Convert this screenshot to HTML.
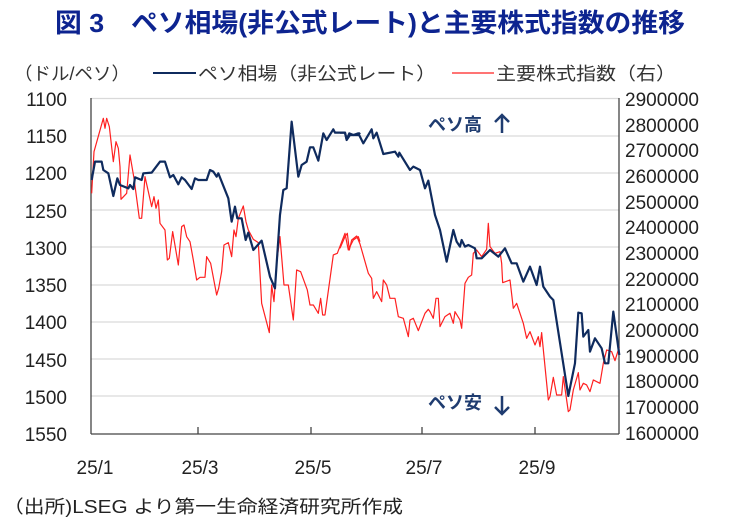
<!DOCTYPE html>
<html><head><meta charset="utf-8"><style>
body{margin:0;background:#fff;width:740px;height:520px;overflow:hidden}
svg text{font-family:"Liberation Sans","Noto Sans CJK JP",sans-serif}
</style></head><body>
<svg width="740" height="520" viewBox="0 0 740 520" xmlns="http://www.w3.org/2000/svg">
<text x="55" y="32" font-size="26" font-weight="bold" fill="#0d2490" textLength="630" lengthAdjust="spacingAndGlyphs">図 3　ペソ相場(非公式レート)と主要株式指数の推移</text>
<g font-size="18" fill="#333">
<text x="14" y="80" textLength="116" lengthAdjust="spacingAndGlyphs">（ドル/ペソ）</text>
<line x1="153" y1="73" x2="196" y2="73" stroke="#0f2b5e" stroke-width="2"/>
<text x="198" y="80" textLength="238" lengthAdjust="spacingAndGlyphs">ペソ相場（非公式レート）</text>
<line x1="452" y1="73" x2="494" y2="73" stroke="#ff2020" stroke-width="1.3"/>
<text x="496" y="80" textLength="180" lengthAdjust="spacingAndGlyphs">主要株式指数（右）</text>
</g>
<g stroke="#d9d9d9" stroke-width="1.2">
<line x1="91" y1="98.5" x2="619" y2="98.5"/><line x1="91" y1="136" x2="619" y2="136"/><line x1="91" y1="173" x2="619" y2="173"/><line x1="91" y1="210" x2="619" y2="210"/><line x1="91" y1="247" x2="619" y2="247"/><line x1="91" y1="285" x2="619" y2="285"/><line x1="91" y1="322" x2="619" y2="322"/><line x1="91" y1="359" x2="619" y2="359"/><line x1="91" y1="396" x2="619" y2="396"/>
</g>
<g stroke="#444" stroke-width="1.3" fill="none">
<line x1="91" y1="98" x2="91" y2="434"/><line x1="619" y1="98" x2="619" y2="434"/><line x1="91" y1="434" x2="619" y2="434"/>
<line x1="198" y1="427" x2="198" y2="434"/><line x1="311" y1="427" x2="311" y2="434"/><line x1="422" y1="427" x2="422" y2="434"/><line x1="535" y1="427" x2="535" y2="434"/>
</g>
<g font-size="19" fill="#222" text-anchor="end">
<text x="67" y="106">1100</text><text x="67" y="143">1150</text><text x="67" y="180">1200</text><text x="67" y="218">1250</text><text x="67" y="255">1300</text><text x="67" y="292">1350</text><text x="67" y="329">1400</text><text x="67" y="367">1450</text><text x="67" y="404">1500</text><text x="67" y="441">1550</text>
</g>
<g font-size="19" fill="#222">
<text x="625" y="106">2900000</text><text x="625" y="132">2800000</text><text x="625" y="157">2700000</text><text x="625" y="183">2600000</text><text x="625" y="209">2500000</text><text x="625" y="234">2400000</text><text x="625" y="260">2300000</text><text x="625" y="286">2200000</text><text x="625" y="311">2100000</text><text x="625" y="337">2000000</text><text x="625" y="363">1900000</text><text x="625" y="388">1800000</text><text x="625" y="414">1700000</text><text x="625" y="440">1600000</text>
</g>
<g font-size="19" fill="#222" text-anchor="middle">
<text x="95" y="474">25/1</text><text x="200" y="474">25/3</text><text x="313" y="474">25/5</text><text x="424" y="474">25/7</text><text x="537" y="474">25/9</text>
</g>
<g font-size="18" font-weight="bold" fill="#1f3c70">
<text x="428" y="131">ペソ高</text><text x="428" y="409">ペソ安</text>
</g>
<g stroke="#1f3c70" stroke-width="2.5" fill="none">
<path d="M502 133 V116 M495 122 L502 115 L509 122"/>
<path d="M502 396 V413 M495 407 L502 414 L509 407"/>
</g>
<g fill="none" stroke-linejoin="round">
<g transform="translate(80,90) scale(0.3333)">
<polyline stroke="#ff2020" stroke-width="1.2" vector-effect="non-scaling-stroke" points="35,310 42,185 70,85 75,115 80,85 88,110 100,215 108,155 115,175 120,230 123,328 140,310 150,195 162,265 178,385 185,385 195,260 215,350 222,320 228,355 235,330 240,400 255,420 262,510 268,505 278,425 295,525 305,410 312,405 320,440 330,455 340,510 350,570 360,562 375,562 380,500 392,520 410,615 416,595 425,545 432,465 445,458 455,500 462,420 468,440 475,385 490,348 498,395 505,420 520,448 535,458 545,640 568,728 575,585 582,635 590,520 600,440 612,585 625,585 640,690 650,540 662,545 682,600 690,645 700,645 715,670 722,625 728,675 735,675 760,495 772,490 795,430 805,480 820,450 835,440 840,455"/>
<polyline stroke="#0f2b5e" stroke-width="2.2" vector-effect="non-scaling-stroke" points="35,270 45,215 65,215 70,240 85,250 100,318 112,265 120,285 145,295 150,285 160,297 165,262 185,270 190,250 215,248 240,215 255,215 270,262 280,255 295,283 305,262 315,270 335,297 345,265 355,270 380,270 390,240 400,245 410,260 415,250 445,325 455,395 465,350 472,385 485,385 497,450 505,428 520,480 545,452 570,560 585,595 600,375 610,300 620,295 635,95 655,260 665,225 680,215 690,172 700,172 715,212 730,130 740,150 760,118 765,128 795,128 800,150 810,135 835,135 840,128"/>
</g>
<g transform="translate(340,90) scale(0.3333)">
<polyline stroke="#ff2020" stroke-width="1.2" vector-effect="non-scaling-stroke" points="0,475 15,440 22,430 28,480 35,450 50,438 60,462 85,550 95,565 100,625 110,605 125,635 130,570 140,585 150,625 165,625 175,680 190,685 205,740 210,690 220,685 235,722 255,670 265,658 270,665 280,685 288,625 295,625 300,710 315,680 330,670 340,700 345,665 360,690 365,715 375,580 385,562 395,555 400,490 410,480 425,500 440,478 445,400 450,470 465,490 480,485 485,520 488,578 510,570 520,655 530,640 550,700 560,745 570,725 585,765 595,740 600,770 605,728 625,930 630,920 640,862 650,915 665,915 670,860 685,965 690,960 700,900 715,848 720,900 730,880 740,885 750,905 760,870 780,880 790,820 800,780 815,785 825,812 838,770"/>
<polyline stroke="#0f2b5e" stroke-width="2.2" vector-effect="non-scaling-stroke" points="0,128 15,128 20,148 28,130 40,135 55,130 70,160 95,118 100,145 110,128 130,192 165,185 175,200 178,188 210,240 220,230 240,240 255,295 265,272 285,375 300,420 320,515 340,420 350,455 360,470 365,450 375,470 385,465 405,475 410,505 425,505 450,480 475,500 495,475 515,520 530,520 550,575 570,530 590,585 600,530 610,590 630,620 640,630 685,918 705,820 715,668 725,670 730,740 745,720 750,785 765,745 785,775 795,820 805,820 820,665 838,795"/>
</g>
</g>
<text x="3" y="513" font-size="18" fill="#222" textLength="400" lengthAdjust="spacingAndGlyphs">（出所)LSEG より第一生命経済研究所作成</text>
</svg>
</body></html>
